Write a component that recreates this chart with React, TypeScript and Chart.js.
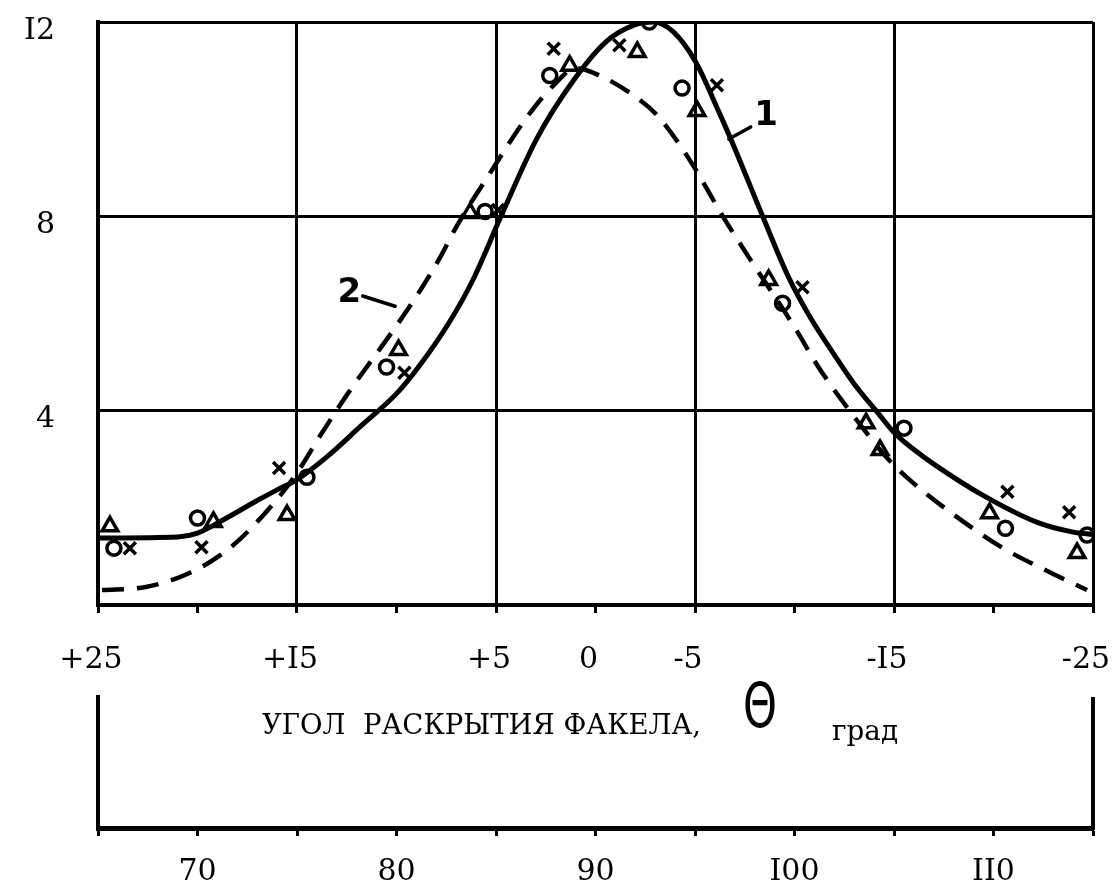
import React, { useEffect, useRef } from "react";
import { Chart, registerables } from "chart.js";

Chart.register(...registerables);

// Curve 1 (solid line), angle θ in degrees and intensity
const curve1Theta = [25, 21, 20, 18.5, 17, 16, 15, 13.5, 11.8, 10, 8.8, 7.3, 6.15, 4.75, 2.95, 1.1, -0.55, -1.9, -2.9, -3.9, -5.0, -6.2, -7.1, -8.4, -9.7, -10.75, -12, -13, -14.2, -15, -16, -17, -19.5, -22.2, -24, -25];
const curve1Value = [1.38, 1.4, 1.48, 1.8, 2.15, 2.37, 2.58, 3.05, 3.68, 4.35, 4.95, 5.85, 6.7, 8.0, 9.6, 10.8, 11.6, 11.93, 12.0, 11.8, 11.2, 10.15, 9.3, 8.0, 6.75, 5.95, 5.15, 4.55, 3.95, 3.55, 3.2, 2.9, 2.25, 1.7, 1.5, 1.45];

// Curve 2 (dashed line)
const curve2Theta = [24.8, 22.6, 20.4, 18.7, 17.4, 15.2, 13.75, 12.5, 10.0, 8.8, 7.8, 7.0, 5.3, 3.45, 2.1, 1.0, -0.2, -2.05, -3.05, -4.1, -5.05, -6.4, -7.7, -8.6, -10, -11.2, -13.4, -14.6, -15.8, -17.9, -20.4, -22.9, -24.7];
const curve2Value = [0.31, 0.37, 0.66, 1.07, 1.54, 2.6, 3.54, 4.32, 5.75, 6.48, 7.16, 7.78, 8.89, 10.04, 10.7, 11.05, 10.9, 10.45, 10.1, 9.55, 8.95, 8.0, 7.16, 6.6, 5.72, 4.9, 3.66, 3.05, 2.57, 1.89, 1.19, 0.66, 0.31];

// Measured points
const circleTheta = [24.2, 20.0, 14.5, 10.5, 5.55, 2.3, -2.7, -4.35, -9.4, -15.5, -20.6, -24.7];
const circleValue = [1.17, 1.79, 2.63, 4.9, 8.1, 10.9, 12.0, 10.64, 6.21, 3.64, 1.58, 1.44];
const triangleTheta = [24.4, 19.2, 15.5, 9.9, 6.3, 1.3, -2.1, -5.1, -8.7, -13.6, -14.3, -19.8, -24.2];
const triangleValue = [1.62, 1.71, 1.85, 5.25, 8.07, 11.1, 11.38, 10.17, 6.69, 3.74, 3.19, 1.89, 1.07];
const crossTheta = [23.4, 19.8, 15.9, 9.6, 4.9, 2.1, -1.2, -6.1, -10.4, -20.7, -23.8];
const crossValue = [1.17, 1.19, 2.82, 4.78, 8.13, 11.45, 11.52, 10.7, 6.54, 2.33, 1.91];

// Tick labels
const xTickValues = [25, 15, 5, 0, -5, -15, -25];
const xTickLabels = ["+25", "+I5", "+5", "0", "-5", "-I5", "-25"];
const yTickValues = [4, 8, 12];
const yTickLabels = ["4", "8", "I2"];
const bottomTickValues = [70, 80, 90, 100, 110];
const bottomTickLabels = ["70", "80", "90", "I00", "II0"];

// Curve labels with leader lines
const curveLabels = ["1", "2"];
const curveLabelTheta = [-8.57, 12.37];
const curveLabelValue = [10.06, 6.42];
const leaderFromTheta = [-6.7, 11.7];
const leaderFromValue = [9.59, 6.36];
const leaderToTheta = [-7.8, 10.07];
const leaderToValue = [9.84, 6.15];

const axisTitle = "УГОЛ  РАСКРЫТИЯ ФАКЕЛА,";
const axisSymbol = "Θ";
const axisUnit = "град";

const tickFamily = "'DejaVu Serif', serif";

const pts = (xs: number[], ys: number[]) => xs.map((x, i) => ({ x, y: ys[i] }));

const decorPlugin = {
  id: "decor",
  afterDraw(chart: any) {
    const { ctx, chartArea, scales } = chart;
    const xs = scales.x;
    const ys = scales.y;
    const xb = scales.x2;
    ctx.save();
    ctx.fillStyle = "#000";
    ctx.strokeStyle = "#000";
    ctx.lineCap = "round";
    for (let i = 0; i < curveLabels.length; i++) {
      ctx.lineWidth = 3.5;
      ctx.beginPath();
      ctx.moveTo(xs.getPixelForValue(leaderFromTheta[i]), ys.getPixelForValue(leaderFromValue[i]));
      ctx.lineTo(xs.getPixelForValue(leaderToTheta[i]), ys.getPixelForValue(leaderToValue[i]));
      ctx.stroke();
      ctx.font = "bold 34px 'DejaVu Sans'";
      ctx.textAlign = "center";
      ctx.textBaseline = "middle";
      ctx.fillText(curveLabels[i], xs.getPixelForValue(curveLabelTheta[i]), ys.getPixelForValue(curveLabelValue[i]));
    }
    // axis title
    ctx.textAlign = "left";
    ctx.textBaseline = "alphabetic";
    ctx.font = "28px 'DejaVu Serif'";
    ctx.fillText(axisTitle, chartArea.left + 164, chartArea.bottom + 129, 439);
    ctx.font = "62px 'DejaVu Sans'";
    ctx.textAlign = "center";
    ctx.textBaseline = "middle";
    ctx.fillText(axisSymbol, chartArea.left + 662, chartArea.bottom + 106, 34);
    ctx.font = "28px 'DejaVu Serif'";
    ctx.textAlign = "left";
    ctx.textBaseline = "alphabetic";
    ctx.fillText(axisUnit, chartArea.left + 734, chartArea.bottom + 135, 66);
    // bracket of the lower scale
    ctx.lineWidth = 4;
    ctx.lineCap = "butt";
    const bl = xb.getPixelForValue(xb.min);
    const br = xb.getPixelForValue(xb.max);
    ctx.beginPath();
    ctx.moveTo(bl, xb.top + 2);
    ctx.lineTo(bl, xb.top - 133);
    ctx.moveTo(br, xb.top + 2);
    ctx.lineTo(br, xb.top - 131);
    ctx.stroke();
    ctx.restore();
  },
};

export default function App() {
  const ref = useRef<HTMLCanvasElement>(null);
  useEffect(() => {
    const canvas = ref.current;
    if (!canvas) return;
    const chart = new Chart(canvas, {
      type: "scatter",
      data: {
        datasets: [
          {
            label: "circles",
            data: pts(circleTheta, circleValue),
            pointStyle: "circle",
            pointRadius: 7,
            pointBorderWidth: 3.5,
            borderColor: "#000",
            backgroundColor: "rgba(255,255,255,0)",
            showLine: false,
          },
          {
            label: "triangles",
            data: pts(triangleTheta, triangleValue),
            pointStyle: "triangle",
            pointRadius: 9,
            pointBorderWidth: 3.5,
            borderColor: "#000",
            backgroundColor: "rgba(255,255,255,0)",
            showLine: false,
          },
          {
            label: "crosses",
            data: pts(crossTheta, crossValue),
            pointStyle: "crossRot",
            pointRadius: 8.5,
            pointBorderWidth: 3.5,
            borderColor: "#000",
            backgroundColor: "#000",
            showLine: false,
          },
          {
            label: "1",
            data: pts(curve1Theta, curve1Value),
            showLine: true,
            borderColor: "#000",
            borderWidth: 5,
            pointRadius: 0,
            cubicInterpolationMode: "monotone",
            fill: false,
          },
          {
            label: "2",
            data: pts(curve2Theta, curve2Value),
            showLine: true,
            borderColor: "#000",
            borderWidth: 4.5,
            borderDash: [22, 13],
            pointRadius: 0,
            cubicInterpolationMode: "monotone",
            fill: false,
          },
        ],
      },
      options: {
        responsive: false,
        animation: false,
        devicePixelRatio: 1,
        layout: { padding: { top: 22, right: 21, left: 0, bottom: 0 } },
        plugins: { legend: { display: false }, tooltip: { enabled: false } },
        scales: {
          x: {
            type: "linear",
            min: -25,
            max: 25,
            reverse: true,
            position: "bottom",
            weight: 0,
            ticks: {
              stepSize: 5,
              autoSkip: false,
              maxRotation: 0,
              padding: 29,
              labelOffset: -7,
              color: "#000",
              font: { family: tickFamily, size: 30 },
              callback: (v: any) => {
                const i = xTickValues.indexOf(Number(v));
                return i >= 0 ? xTickLabels[i] : "";
              },
            },
            grid: {
              color: (c: any) => (c.tick && Math.abs(c.tick.value) % 10 === 5 ? "#000" : "rgba(0,0,0,0)"),
              lineWidth: 3,
              drawTicks: true,
              tickLength: 8,
              tickColor: "#000",
              tickWidth: 3,
            },
            border: { display: true, color: "#000", width: 4 },
            afterFit: (s: any) => {
              s.height = 223;
              s.paddingLeft = 0;
              s.paddingRight = 0;
            },
          },
          x2: {
            type: "linear",
            axis: "x",
            min: 65,
            max: 115,
            position: "bottom",
            weight: 1,
            ticks: {
              stepSize: 5,
              autoSkip: false,
              maxRotation: 0,
              padding: 18,
              color: "#000",
              font: { family: tickFamily, size: 30 },
              callback: (v: any) => {
                const i = bottomTickValues.indexOf(Number(v));
                return i >= 0 ? bottomTickLabels[i] : "";
              },
            },
            grid: {
              drawOnChartArea: false,
              drawTicks: true,
              tickLength: 8,
              tickColor: "#000",
              tickWidth: 3,
              color: "#000",
            },
            border: { display: true, color: "#000", width: 5 },
            afterFit: (s: any) => {
              s.height = 62;
              s.paddingLeft = 0;
              s.paddingRight = 0;
            },
          },
          y: {
            type: "linear",
            min: 0,
            max: 12,
            position: "left",
            ticks: {
              stepSize: 4,
              padding: 43,
              labelOffset: 9,
              color: "#000",
              font: { family: tickFamily, size: 30 },
              callback: (v: any) => {
                const i = yTickValues.indexOf(Number(v));
                return i >= 0 ? yTickLabels[i] : "";
              },
            },
            grid: { color: "#000", lineWidth: 3, drawTicks: false },
            border: { display: true, color: "#000", width: 4 },
            afterFit: (s: any) => {
              s.width = 98;
              s.paddingTop = 0;
              s.paddingBottom = 0;
            },
          },
        },
      } as any,
      plugins: [decorPlugin],
    });
    return () => chart.destroy();
  }, []);
  return (
    <div style={{ position: "absolute", left: 0, top: 0, width: 1114, height: 890, background: "#fff" }}>
      <canvas ref={ref} width={1114} height={890} style={{ display: "block" }} />
    </div>
  );
}
